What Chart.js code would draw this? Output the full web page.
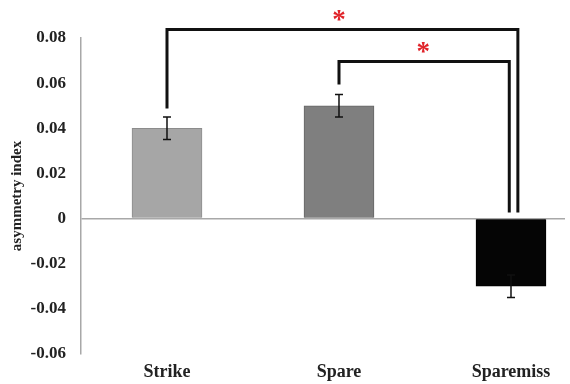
<!DOCTYPE html>
<html>
<head>
<meta charset="utf-8">
<script src="https://cdn.jsdelivr.net/npm/chart.js@4/dist/chart.umd.min.js"></script>
<style>
  html, body { margin: 0; padding: 0; background: #fff; }
  #wrap { width: 570px; height: 384px; position: relative; }
</style>
</head>
<body>
<div id="wrap"><canvas id="c"></canvas></div>
<script>
// data
const categories = ['Strike', 'Spare', 'Sparemiss'];
const values = [0.04, 0.05, -0.03];
const errors = [0.005, 0.005, 0.005];
const barColors = ['#a6a6a6', '#7f7f7f', '#050505'];
const barBorders = ['#8c8c8c', '#666666', '#000000'];
const yTicks = [-0.06, -0.04, -0.02, 0, 0.02, 0.04, 0.06, 0.08];

// significance brackets: [x, y] corners, and the stars above them
const bracketOuter = [[0, 0.0488], [0, 0.0838], [2.04, 0.0838], [2.04, 0.0027]];
const bracketInner = [[1, 0.0594], [1, 0.0696], [1.99, 0.0696], [1.99, 0.0027]];
const stars = [[1.0, 0.0895], [1.49, 0.0753]];

const serif = '"Liberation Serif", "Times New Roman", serif';

const toPts = (arr) => arr.map(p => ({ x: p[0], y: p[1] }));

const overlay = {
  id: 'overlay',
  afterDatasetsDraw(chart) {
    const ctx = chart.ctx;
    const xs = chart.scales.x, ys = chart.scales.y;
    ctx.save();
    // error bars
    ctx.strokeStyle = '#111';
    ctx.lineWidth = 1.5;
    values.forEach((v, i) => {
      const x = xs.getPixelForValue(i);
      const y1 = ys.getPixelForValue(v - errors[i]);
      const y2 = ys.getPixelForValue(v + errors[i]);
      ctx.beginPath();
      ctx.moveTo(x, y1); ctx.lineTo(x, y2);
      ctx.moveTo(x - 4, y1); ctx.lineTo(x + 4, y1);
      ctx.moveTo(x - 4, y2); ctx.lineTo(x + 4, y2);
      ctx.stroke();
    });
    // stars
    ctx.fillStyle = '#e0242a';
    ctx.font = 'bold 27px ' + serif;
    ctx.textAlign = 'center';
    ctx.textBaseline = 'middle';
    stars.forEach(s => {
      ctx.fillText('*', xs.getPixelForValue(s[0]), ys.getPixelForValue(s[1]) + 4);
    });
    ctx.restore();
  }
};

new Chart(document.getElementById('c'), {
  type: 'bar',
  data: {
    datasets: [{
      data: values.map((v, i) => ({ x: i, y: v })),
      backgroundColor: barColors,
      borderColor: barBorders,
      borderWidth: 1,
      barThickness: 70,
      order: 2
    }, {
      type: 'line',
      data: toPts(bracketOuter),
      borderColor: '#111',
      borderWidth: 3,
      pointRadius: 0,
      clip: false,
      order: 1
    }, {
      type: 'line',
      data: toPts(bracketInner),
      borderColor: '#111',
      borderWidth: 3,
      pointRadius: 0,
      clip: false,
      order: 1
    }]
  },
  options: {
    responsive: true,
    maintainAspectRatio: false,
    animation: false,
    layout: { padding: { top: 38, right: 5, left: 0, bottom: 0 } },
    plugins: { legend: { display: false }, tooltip: { enabled: false } },
    scales: {
      x: {
        type: 'linear',
        offset: false,
        min: -0.5,
        max: 2.314,
        afterBuildTicks: (s) => { s.ticks = categories.map((c, i) => ({ value: i })); },
        afterFit: (s) => { s.height = 30; },
        grid: { display: false, drawTicks: false },
        border: { display: false },
        ticks: {
          padding: 8,
          color: '#222',
          font: { family: serif, size: 18, weight: 'bold' },
          callback: (v) => categories[v]
        }
      },
      y: {
        min: -0.06,
        max: 0.08,
        afterBuildTicks: (s) => { s.ticks = yTicks.map(v => ({ value: v })); },
        afterFit: (s) => { s.width = 81; },
        border: { display: true, color: '#a8a8a8', width: 1.5 },
        grid: {
          drawTicks: false,
          lineWidth: 1.5,
          color: (c) => Math.abs(c.tick.value) < 1e-9 ? '#a8a8a8' : 'rgba(0,0,0,0)'
        },
        ticks: {
          padding: 15,
          color: '#222',
          font: { family: serif, size: 17, weight: 'bold' },
          callback: (v) => Math.abs(v) < 1e-9 ? '0' : v.toFixed(2)
        },
        title: {
          display: true,
          text: 'asymmetry index',
          color: '#222',
          padding: { top: 8, bottom: 4 },
          font: { family: serif, size: 15, weight: 'bold' }
        }
      }
    }
  },
  plugins: [overlay]
});
</script>
</body>
</html>
